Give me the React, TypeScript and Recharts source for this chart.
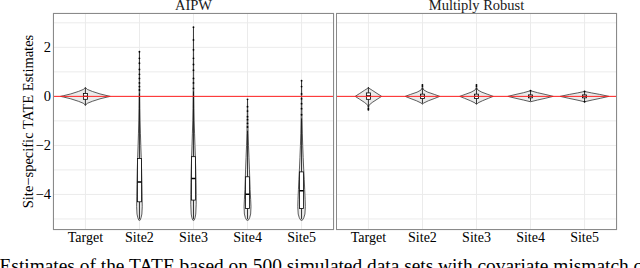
import React from "react";
import { ComposedChart, Bar, XAxis, YAxis, CartesianGrid, ReferenceLine } from "recharts";

// ---------- data ----------
const categories = ["Target", "Site2", "Site3", "Site4", "Site5"];
const yTickValues = [-5, -4, -3, -2, -1, 0, 1, 2, 3];
const yTickLabels = ["", "−4", "", "−2", "", "0", "", "2", ""];
const yDomain: [number, number] = [-5.45, 3.4];
const truthValue = 0;
const facetTitles = ["AIPW", "Multiply Robust"];
const yAxisTitle = "Site−specific TATE Estimates";
const captionText =
  "Estimates of the TATE based on 500 simulated data sets with covariate mismatch case";

// AIPW facet
const aipwMin = [-0.38, -5.05, -5.05, -5.05, -5.05];
const aipwMax = [0.37, 1.82, 2.82, -0.12, 0.64];
const aipwQ1 = [-0.12, -4.3, -4.23, -4.57, -4.57];
const aipwMedian = [0.0, -3.49, -3.35, -3.99, -3.85];
const aipwQ3 = [0.12, -2.53, -2.46, -3.28, -3.08];
const aipwWhiskerLow = [-0.35, -5.0, -5.0, -5.0, -5.0];
const aipwWhiskerHigh = [0.35, 0.12, 0.2, -1.4, -0.9];
const aipwOutliers: number[][] = [
  [],
  [0.26, 0.4, 0.55, 0.73, 0.9, 1.1, 1.35, 1.55, 1.82],
  [0.33, 0.55, 0.73, 1.07, 1.3, 1.55, 1.9, 2.3, 2.82],
  [-1.25, -1.1, -0.95, -0.83, -0.6, -0.42, -0.12],
  [-0.75, -0.5, -0.3, -0.1, 0.1, 0.4, 0.64],
];
const aipwDensity: [number, number][][] = [
  [[-0.38, 0], [-0.33, 0.012], [-0.28, 0.04], [-0.2, 0.13], [-0.1, 0.27], [-0.03, 0.4], [0, 0.46], [0.03, 0.4], [0.1, 0.27], [0.2, 0.13], [0.28, 0.04], [0.33, 0.012], [0.37, 0]],
  [[-5.05, 0.012], [-4.95, 0.03], [-4.8, 0.045], [-4.5, 0.052], [-4.1, 0.05], [-3.6, 0.046], [-3.0, 0.04], [-2.5, 0.033], [-2.0, 0.025], [-1.5, 0.018], [-1.0, 0.012], [-0.5, 0.008], [0, 0.005], [0.6, 0.003], [1.2, 0.002], [1.82, 0]],
  [[-5.05, 0.012], [-4.95, 0.03], [-4.8, 0.042], [-4.4, 0.05], [-4.0, 0.05], [-3.5, 0.047], [-3.0, 0.042], [-2.5, 0.035], [-2.0, 0.027], [-1.5, 0.02], [-1.0, 0.013], [-0.5, 0.009], [0, 0.006], [0.8, 0.003], [1.8, 0.002], [2.82, 0]],
  [[-5.05, 0.015], [-4.95, 0.04], [-4.8, 0.058], [-4.5, 0.064], [-4.2, 0.058], [-3.8, 0.048], [-3.4, 0.042], [-3.0, 0.036], [-2.5, 0.027], [-2.0, 0.018], [-1.5, 0.011], [-1.0, 0.006], [-0.5, 0.003], [-0.12, 0]],
  [[-5.05, 0.015], [-4.95, 0.042], [-4.8, 0.062], [-4.5, 0.07], [-4.2, 0.066], [-3.8, 0.058], [-3.4, 0.05], [-3.0, 0.04], [-2.5, 0.03], [-2.0, 0.021], [-1.5, 0.014], [-1.0, 0.009], [-0.5, 0.005], [0, 0.003], [0.64, 0]],
];

// Multiply Robust facet
const mrMin = [-0.55, -0.32, -0.33, -0.22, -0.22];
const mrMax = [0.37, 0.47, 0.47, 0.23, 0.2];
const mrQ1 = [-0.12, -0.09, -0.09, -0.06, -0.06];
const mrMedian = [0.02, 0.0, 0.0, 0.0, 0.0];
const mrQ3 = [0.14, 0.09, 0.09, 0.06, 0.06];
const mrWhiskerLow = [-0.45, -0.3, -0.31, -0.2, -0.2];
const mrWhiskerHigh = [0.37, 0.35, 0.35, 0.2, 0.18];
const mrOutliers: number[][] = [
  [-0.5, -0.55],
  [0.42, 0.47],
  [0.42, 0.47],
  [0.23],
  [0.2, -0.22],
];
const mrDensity: [number, number][][] = [
  [[-0.55, 0], [-0.45, 0.005], [-0.36, 0.012], [-0.25, 0.07], [-0.12, 0.16], [0, 0.245], [0.12, 0.16], [0.25, 0.07], [0.33, 0.012], [0.37, 0]],
  [[-0.32, 0], [-0.27, 0.025], [-0.18, 0.11], [-0.08, 0.23], [0, 0.32], [0.08, 0.22], [0.17, 0.1], [0.26, 0.025], [0.35, 0.006], [0.47, 0]],
  [[-0.33, 0], [-0.27, 0.025], [-0.18, 0.11], [-0.08, 0.22], [0, 0.31], [0.08, 0.21], [0.17, 0.1], [0.26, 0.025], [0.35, 0.006], [0.47, 0]],
  [[-0.22, 0], [-0.15, 0.13], [-0.08, 0.27], [0, 0.42], [0.08, 0.27], [0.15, 0.13], [0.23, 0]],
  [[-0.22, 0], [-0.15, 0.14], [-0.08, 0.29], [0, 0.45], [0.08, 0.28], [0.14, 0.13], [0.2, 0]],
];

// ---------- helpers ----------
function buildRows(
  mins: number[], maxs: number[], q1: number[], med: number[], q3: number[],
  wlo: number[], whi: number[], outs: number[][], dens: [number, number][][]
) {
  return categories.map((c, i) => ({
    category: c,
    range: [mins[i], maxs[i]],
    q1: q1[i],
    median: med[i],
    q3: q3[i],
    whiskerLow: wlo[i],
    whiskerHigh: whi[i],
    outliers: outs[i],
    density: dens[i],
  }));
}

const aipwRows = buildRows(aipwMin, aipwMax, aipwQ1, aipwMedian, aipwQ3, aipwWhiskerLow, aipwWhiskerHigh, aipwOutliers, aipwDensity);
const mrRows = buildRows(mrMin, mrMax, mrQ1, mrMedian, mrQ3, mrWhiskerLow, mrWhiskerHigh, mrOutliers, mrDensity);

const FONT = "'Liberation Serif', 'Times New Roman', Times, serif";
const BOX_FRAC = 0.075;

function ViolinShape(props: any) {
  const { x, y, width, height, payload } = props;
  if (!payload || !payload.range) return null;
  const [lo, hi] = payload.range as [number, number];
  const top = Math.min(y, y + height);
  const bottom = Math.max(y, y + height);
  const toY = (v: number) => bottom - ((v - lo) / (hi - lo)) * (bottom - top);
  const cx = x + width / 2;
  const band = width;
  const prof: [number, number][] = payload.density;
  const left = prof.map(([v, w]) => `${cx - w * band},${toY(v)}`);
  const right = [...prof].reverse().map(([v, w]) => `${cx + w * band},${toY(v)}`);
  const d = `M${left.join("L")}L${right.join("L")}Z`;
  const bw = (BOX_FRAC * band) / 2;
  const yq1 = toY(payload.q1);
  const yq3 = toY(payload.q3);
  return (
    <g>
      <path d={d} fill="#ebebeb" stroke="#333" strokeWidth={0.8} strokeLinejoin="round" />
      <line x1={cx} x2={cx} y1={toY(payload.whiskerHigh)} y2={yq3} stroke="#000" strokeWidth={0.8} />
      <line x1={cx} x2={cx} y1={yq1} y2={toY(payload.whiskerLow)} stroke="#000" strokeWidth={0.8} />
      <rect x={cx - bw} y={yq3} width={2 * bw} height={Math.max(yq1 - yq3, 0.5)} fill="#fff" stroke="#000" strokeWidth={0.8} />
      <line x1={cx - bw} x2={cx + bw} y1={toY(payload.median)} y2={toY(payload.median)} stroke="#000" strokeWidth={1.4} />
      {(payload.outliers as number[]).map((v, i) => (
        <circle key={i} cx={cx} cy={toY(v)} r={0.9} fill="#000" />
      ))}
    </g>
  );
}

function YTick(props: any) {
  const { x, y, payload } = props;
  const idx = yTickValues.indexOf(payload.value);
  const label = idx >= 0 ? yTickLabels[idx] : "";
  if (!label) return null;
  return (
    <text x={x} y={y} dy={5} textAnchor="end" fontFamily={FONT} fontSize={14.5} fill="#000">
      {label}
    </text>
  );
}

function XTick(props: any) {
  const { x, y, payload } = props;
  return (
    <text x={x} y={y} dy={9.5} textAnchor="middle" fontFamily={FONT} fontSize={14} fill="#000">
      {payload.value}
    </text>
  );
}

// ---------- layout ----------
const W = 640;
const H = 268;
const PLOT_TOP = 13;
const PLOT_BOTTOM = 230;
const PANEL_W = 281;
const LEFT_PLOT_X = 53;
const RIGHT_PLOT_X = 336;
const XAXIS_H = 20;
const X_PAD = 5.4;

function Facet({ rows, showY, width, marginRight }: any) {
  return (
    <ComposedChart
      width={width}
      height={H}
      data={rows}
      margin={{ top: PLOT_TOP, right: marginRight, left: 0, bottom: H - PLOT_BOTTOM - XAXIS_H }}
      barCategoryGap="0%"
      barGap={0}
    >
      <CartesianGrid stroke="#ebebeb" strokeWidth={1} />
      <XAxis
        dataKey="category"
        type="category"
        height={XAXIS_H}
        padding={{ left: X_PAD, right: X_PAD }}
        axisLine={false}
        tickLine={false}
        tickSize={0}
        tickMargin={2}
        interval={0}
        tick={<XTick />}
      />
      <YAxis
        type="number"
        domain={yDomain}
        ticks={yTickValues}
        interval={0}
        allowDataOverflow
        hide={!showY}
        width={showY ? LEFT_PLOT_X : 0}
        axisLine={false}
        tickLine={false}
        tickSize={0}
        tickMargin={2}
        tick={<YTick />}
      />
      <Bar dataKey="range" isAnimationActive={false} shape={<ViolinShape />} />
      <ReferenceLine y={truthValue} stroke="#ff2020" strokeWidth={1} />
    </ComposedChart>
  );
}

export default function App() {
  const leftWidth = LEFT_PLOT_X + PANEL_W + 2;
  const rightWidth = W - RIGHT_PLOT_X;
  return (
    <div style={{ position: "fixed", left: 0, top: 0, width: W, height: H, background: "#fff", overflow: "hidden" }}>
      <div style={{ position: "absolute", left: 0, top: 0 }}>
        <Facet rows={aipwRows} showY={true} width={leftWidth} marginRight={2} />
      </div>
      <div style={{ position: "absolute", left: RIGHT_PLOT_X, top: 0 }}>
        <Facet rows={mrRows} showY={false} width={rightWidth} marginRight={rightWidth - PANEL_W} />
      </div>
      <svg width={W} height={H} style={{ position: "absolute", left: 0, top: 0, pointerEvents: "none" }}>
        <rect x={LEFT_PLOT_X + 0.5} y={PLOT_TOP + 0.5} width={PANEL_W - 1} height={PLOT_BOTTOM - PLOT_TOP - 1} fill="none" stroke="#8a8a8a" strokeWidth={1} />
        <rect x={RIGHT_PLOT_X + 0.5} y={PLOT_TOP + 0.5} width={PANEL_W - 1} height={PLOT_BOTTOM - PLOT_TOP - 1} fill="none" stroke="#8a8a8a" strokeWidth={1} />
        <text x={LEFT_PLOT_X + PANEL_W / 2} y={9.5} textAnchor="middle" fontFamily={FONT} fontSize={14.5} fill="#1a1a1a">
          {facetTitles[0]}
        </text>
        <text x={RIGHT_PLOT_X + PANEL_W / 2} y={9.5} textAnchor="middle" fontFamily={FONT} fontSize={14.5} fill="#1a1a1a">
          {facetTitles[1]}
        </text>
        <text
          transform={`translate(32.5, ${(PLOT_TOP + PLOT_BOTTOM) / 2}) rotate(-90)`}
          textAnchor="middle"
          fontFamily={FONT}
          fontSize={14.5}
          fill="#000"
        >
          {yAxisTitle}
        </text>
        <text x={-0.5} y={272} fontFamily={FONT} fontSize={19.4} fill="#000">
          {captionText}
        </text>
      </svg>
    </div>
  );
}
